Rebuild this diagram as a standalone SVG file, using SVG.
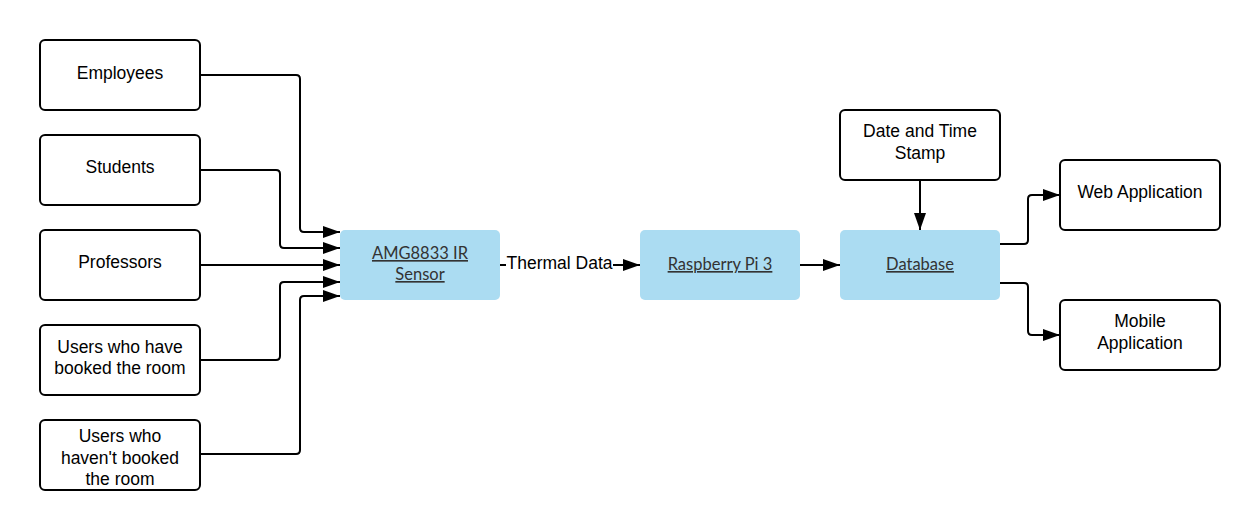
<svg xmlns="http://www.w3.org/2000/svg" width="1260" height="530" viewBox="0 0 1260 530">
<style>
.box{fill:#fff;stroke:#000;stroke-width:2}
.blue{fill:#abdcf2;stroke:none}
.t{font-family:"Liberation Sans",Arial,sans-serif;font-size:17.5px;fill:#000;text-anchor:middle}
.bt{font-family:Lato,"Open Sans",sans-serif;font-size:16.5px;fill:#333;text-anchor:middle;text-decoration:underline}
.c{fill:none;stroke:#000;stroke-width:2}
</style>
<defs>
<marker id="ah" markerWidth="17" markerHeight="12" refX="17" refY="6" orient="auto" markerUnits="userSpaceOnUse">
<path d="M0,0 L17,6 L0,12 Z" fill="#000"/>
</marker>
</defs>
<rect width="1260" height="530" fill="#fff"/>
<g id="connectors">
<path class="c" marker-end="url(#ah)" d="M200,75 H296 Q300,75 300,79 V228 Q300,232 304,232 H340"/>
<path class="c" marker-end="url(#ah)" d="M200,170 H276 Q280,170 280,174 V244 Q280,248 284,248 H340"/>
<path class="c" marker-end="url(#ah)" d="M200,265 H340"/>
<path class="c" marker-end="url(#ah)" d="M200,360 H276 Q280,360 280,356 V286 Q280,282 284,282 H340"/>
<path class="c" marker-end="url(#ah)" d="M200,454 H296 Q300,454 300,450 V300 Q300,296 304,296 H340"/>
<path class="c" marker-end="url(#ah)" d="M500,265 H640"/>
<rect x="506" y="253" width="107" height="22" fill="#fff"/>
<text class="t" x="559.5" y="269">Thermal Data</text>
<path class="c" marker-end="url(#ah)" d="M800,265 H840"/>
<path class="c" marker-end="url(#ah)" d="M920,180 V230"/>
<path class="c" marker-end="url(#ah)" d="M1000,244 H1024 Q1028,244 1028,240 V199 Q1028,195 1032,195 H1060"/>
<path class="c" marker-end="url(#ah)" d="M1000,283 H1024 Q1028,283 1028,287 V331 Q1028,335 1032,335 H1060"/>
</g>
<g id="employees"><rect class="box" x="40" y="40" width="160" height="70" rx="5"/><text class="t" x="120" y="79">Employees</text></g>
<g id="students"><rect class="box" x="40" y="135" width="160" height="70" rx="5"/><text class="t" x="120" y="173">Students</text></g>
<g id="professors"><rect class="box" x="40" y="230" width="160" height="70" rx="5"/><text class="t" x="120" y="268">Professors</text></g>
<g id="booked"><rect class="box" x="40" y="325" width="160" height="70" rx="5"/><text class="t" x="120" y="353">Users who have</text><text class="t" x="120" y="374">booked the room</text></g>
<g id="notbooked"><rect class="box" x="40" y="420" width="160" height="70" rx="5"/><text class="t" x="120" y="442">Users who</text><text class="t" x="120" y="464">haven't booked</text><text class="t" x="120" y="485">the room</text></g>
<g id="sensor"><rect class="blue" x="340" y="230" width="160" height="70" rx="5"/><text class="bt" x="420" y="259">AMG8833 IR</text><text class="bt" x="420" y="280">Sensor</text></g>
<g id="pi"><rect class="blue" x="640" y="230" width="160" height="70" rx="5"/><text class="bt" x="720" y="270">Raspberry Pi 3</text></g>
<g id="database"><rect class="blue" x="840" y="230" width="160" height="70" rx="5"/><text class="bt" x="920" y="270">Database</text></g>
<g id="stamp"><rect class="box" x="840" y="110" width="160" height="70" rx="5"/><text class="t" x="920" y="137">Date and Time</text><text class="t" x="920" y="159">Stamp</text></g>
<g id="web"><rect class="box" x="1060" y="160" width="160" height="70" rx="5"/><text class="t" x="1140" y="198">Web Application</text></g>
<g id="mobile"><rect class="box" x="1060" y="300" width="160" height="70" rx="5"/><text class="t" x="1140" y="327">Mobile</text><text class="t" x="1140" y="349">Application</text></g>
</svg>
